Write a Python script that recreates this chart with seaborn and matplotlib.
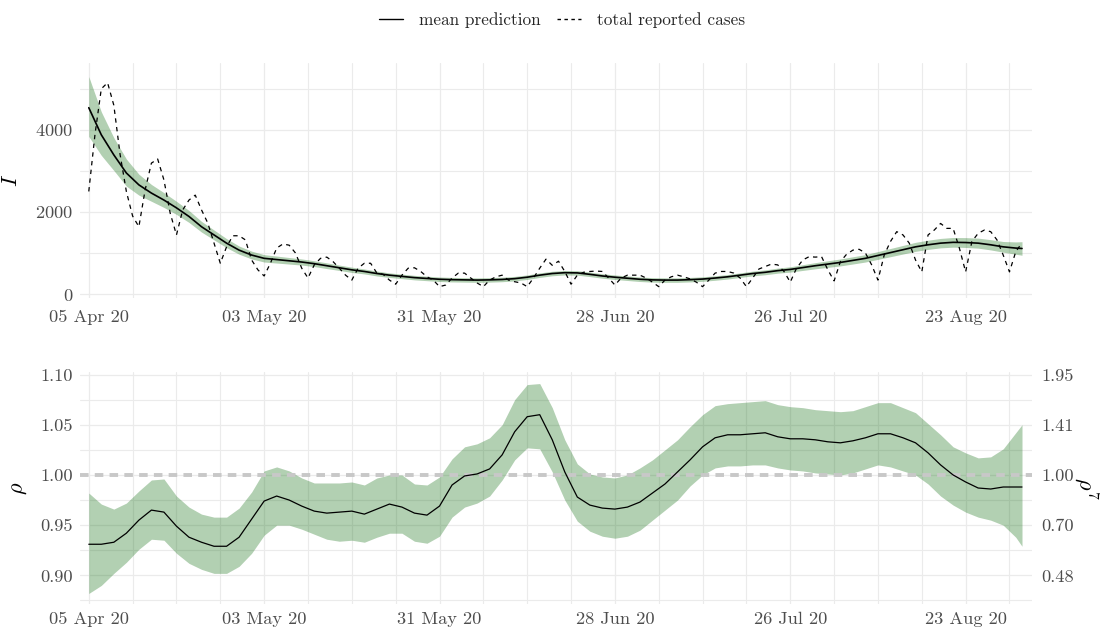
import pandas as pd
import matplotlib.pyplot as plt
import matplotlib.dates as mdates
from matplotlib.lines import Line2D
import seaborn as sns

# ---- data ----
start_date = '2020-04-05'

# daily total reported cases (day 0 .. 149)
reported_cases = [
    2500, 3900, 5000, 5150, 4600, 3400, 2500, 1900, 1640, 2540,
    3190, 3290, 2780, 1970, 1440, 2050, 2290, 2410, 2050, 1730,
    1240, 750, 1150, 1420, 1420, 1320, 830, 590, 440, 750,
    1120, 1220, 1190, 1000, 630, 390, 710, 870, 900, 790,
    630, 460, 340, 630, 750, 750, 510, 480, 340, 240,
    460, 630, 640, 550, 420, 340, 180, 220, 390, 510,
    510, 390, 270, 180, 340, 420, 460, 340, 300, 270,
    180, 390, 630, 850, 700, 800, 550, 240, 460, 530,
    550, 560, 550, 390, 220, 390, 460, 460, 460, 390,
    290, 180, 340, 420, 460, 420, 370, 290, 180, 340,
    510, 550, 550, 510, 390, 180, 390, 610, 670, 730,
    710, 550, 290, 630, 830, 910, 900, 910, 590, 320,
    790, 970, 1070, 1090, 1000, 710, 340, 950, 1280, 1520,
    1440, 1240, 830, 540, 1440, 1560, 1720, 1600, 1600, 1120,
    540, 1280, 1480, 1560, 1520, 1320, 950, 540, 1030, 1250,
]

# model output sampled every second day (plus the last day)
model_days = list(range(0, 149, 2)) + [149]

I_mean = [
    4540, 3880, 3390, 2950, 2660, 2460, 2290, 2100, 1890, 1640,
    1440, 1240, 1070, 950, 870, 840, 810, 780, 740, 690,
    640, 590, 550, 500, 460, 430, 400, 380, 360, 350,
    345, 340, 345, 355, 375, 410, 460, 500, 520, 515,
    480, 440, 410, 385, 360, 345, 340, 340, 350, 365,
    390, 420, 460, 500, 530, 570, 600, 645, 690, 730,
    770, 820, 870, 940, 1010, 1080, 1150, 1200, 1240, 1260,
    1255, 1240, 1200, 1150, 1120, 1110,
]
I_upper = [
    5300, 4440, 3810, 3290, 2920, 2670, 2470, 2260, 2035, 1770,
    1560, 1350, 1170, 1045, 960, 925, 890, 855, 810, 760,
    705, 655, 610, 560, 515, 485, 455, 435, 415, 405,
    400, 395, 400, 410, 430, 465, 515, 555, 575, 570,
    535, 495, 465, 440, 415, 400, 395, 395, 405, 420,
    445, 475, 515, 558, 590, 632, 665, 715, 765, 810,
    855, 908, 960, 1035, 1110, 1185, 1260, 1312, 1355, 1378,
    1375, 1362, 1325, 1280, 1270, 1275,
]
I_lower = [
    3840, 3380, 3010, 2630, 2410, 2260, 2110, 1940, 1745, 1510,
    1320, 1130, 970, 855, 780, 755, 730, 705, 670, 620,
    575, 525, 490, 440, 405, 375, 345, 325, 305, 295,
    290, 285, 290, 300, 320, 355, 405, 445, 465, 460,
    425, 385, 355, 330, 305, 290, 285, 285, 295, 310,
    335, 365, 405, 442, 470, 508, 535, 575, 615, 650,
    685, 732, 780, 845, 910, 975, 1040, 1088, 1125, 1142,
    1135, 1118, 1075, 1020, 970, 945,
]

rho_mean = [
    0.931, 0.931, 0.933, 0.942, 0.955, 0.965, 0.963, 0.949, 0.938, 0.933,
    0.929, 0.929, 0.938, 0.956, 0.974, 0.979, 0.975, 0.969, 0.964, 0.962,
    0.963, 0.964, 0.961, 0.966, 0.971, 0.968, 0.962, 0.960, 0.969, 0.990,
    0.999, 1.001, 1.006, 1.020, 1.043, 1.058, 1.060, 1.035, 1.003, 0.978,
    0.970, 0.967, 0.966, 0.968, 0.973, 0.982, 0.991, 1.003, 1.015, 1.028,
    1.037, 1.040, 1.040, 1.041, 1.042, 1.038, 1.036, 1.036, 1.035, 1.033,
    1.032, 1.034, 1.037, 1.041, 1.041, 1.037, 1.032, 1.022, 1.010, 1.000,
    0.993, 0.987, 0.986, 0.988, 0.988, 0.988,
]
rho_upper = [
    0.982, 0.971, 0.966, 0.972, 0.984, 0.995, 0.996, 0.979, 0.968, 0.961,
    0.958, 0.958, 0.967, 0.983, 1.004, 1.008, 1.004, 0.997, 0.992, 0.992,
    0.992, 0.993, 0.990, 0.997, 1.000, 1.000, 0.991, 0.990, 0.998, 1.016,
    1.028, 1.031, 1.037, 1.050, 1.075, 1.090, 1.091, 1.067, 1.035, 1.011,
    1.001, 0.998, 0.997, 1.000, 1.007, 1.015, 1.025, 1.035, 1.048, 1.060,
    1.069, 1.071, 1.072, 1.073, 1.074, 1.070, 1.068, 1.067, 1.065, 1.064,
    1.063, 1.064, 1.068, 1.072, 1.072, 1.067, 1.062, 1.051, 1.040, 1.028,
    1.022, 1.017, 1.018, 1.026, 1.042, 1.050,
]
rho_lower = [
    0.882, 0.890, 0.902, 0.913, 0.926, 0.936, 0.935, 0.922, 0.912, 0.906,
    0.902, 0.902, 0.909, 0.922, 0.940, 0.950, 0.950, 0.946, 0.941, 0.936,
    0.934, 0.935, 0.933, 0.938, 0.942, 0.942, 0.934, 0.932, 0.939, 0.958,
    0.968, 0.972, 0.979, 0.995, 1.015, 1.027, 1.026, 1.003, 0.975, 0.954,
    0.944, 0.939, 0.937, 0.939, 0.945, 0.955, 0.965, 0.975, 0.989, 1.000,
    1.007, 1.009, 1.009, 1.010, 1.010, 1.007, 1.005, 1.004, 1.002, 1.001,
    1.000, 1.002, 1.006, 1.010, 1.008, 1.004, 1.000, 0.991, 0.979, 0.970,
    0.963, 0.958, 0.955, 0.950, 0.938, 0.929,
]

rho_ticks = [0.90, 0.95, 1.00, 1.05, 1.10]
rho7_labels = ['0.48', '0.70', '1.00', '1.41', '1.95']
I_ticks = [0, 2000, 4000]

BAND = 'darkgreen'
GRID = '#ebebeb'
TEXT = '#4d4d4d'
TICK_SIZE = 13.2


def build_frames():
    t0 = pd.Timestamp(start_date)
    cases = pd.DataFrame({
        'date': t0 + pd.to_timedelta(range(len(reported_cases)), unit='D'),
        'cases': reported_cases,
    })
    model = pd.DataFrame({
        'date': t0 + pd.to_timedelta(model_days, unit='D'),
        'I_mean': I_mean, 'I_lower': I_lower, 'I_upper': I_upper,
        'rho_mean': rho_mean, 'rho_lower': rho_lower, 'rho_upper': rho_upper,
    })
    return cases, model


def style_axis(ax, x0, x1, xpad):
    # minimal ggplot-like look: no spines, no ticks, labelled every 4 weeks, grid every week
    for s in ax.spines.values():
        s.set_visible(False)
    t0 = pd.Timestamp(start_date)
    ax.set_xticks(pd.date_range(t0, periods=6, freq='28D'))
    ax.set_xticks(pd.date_range(t0, periods=22, freq='7D'), minor=True)
    ax.xaxis.set_major_formatter(mdates.DateFormatter('%d %b %y'))
    ax.set_xlim(x0, x1)
    ax.tick_params(which='both', length=0, colors=TEXT, labelsize=TICK_SIZE)
    ax.tick_params(axis='x', pad=xpad)
    ax.tick_params(axis='y', pad=5)
    ax.grid(which='major', color=GRID, linewidth=0.9)
    ax.grid(which='minor', color=GRID, linewidth=0.8)
    ax.set_axisbelow(True)
    ax.set_xlabel('')


def main():
    cases, model = build_frames()

    sns.set_theme(style='white')
    plt.rcParams['font.family'] = ['cmr10', 'DejaVu Serif']
    plt.rcParams['mathtext.fontset'] = 'cm'
    plt.rcParams['axes.formatter.use_mathtext'] = True

    fig = plt.figure(figsize=(11.02, 6.33), dpi=100)
    ax1 = fig.add_axes([0.0726, 0.529, 0.8639, 0.3715])
    ax2 = fig.add_axes([0.0726, 0.0458, 0.8639, 0.3665])

    x0 = pd.Timestamp(start_date) - pd.Timedelta(days=1.4)
    x1 = pd.Timestamp(start_date) + pd.Timedelta(days=150.6)

    # ---- top: infections ----
    ax1.fill_between(model['date'], model['I_lower'], model['I_upper'],
                     color=BAND, alpha=0.3, linewidth=0)
    sns.lineplot(data=model, x='date', y='I_mean', ax=ax1, color='black', linewidth=1.2)
    sns.lineplot(data=cases, x='date', y='cases', ax=ax1, color='black',
                 linewidth=0.9, linestyle=(0, (3.5, 3.5)))
    style_axis(ax1, x0, x1, 8)
    ax1.set_ylim(-100, 5630)
    ax1.set_yticks(I_ticks)
    ax1.set_yticks([1000, 3000, 5000], minor=True)
    ax1.set_ylabel(r'$I$', fontsize=16, color='black', labelpad=10)

    # ---- bottom: rho ----
    sns.lineplot(x=[x0, x1], y=[1.0, 1.0], ax=ax2, color='#c8c8c8',
                 linewidth=2.8, linestyle=(0, (2.2, 1.6)))
    ax2.fill_between(model['date'], model['rho_lower'], model['rho_upper'],
                     color=BAND, alpha=0.3, linewidth=0)
    sns.lineplot(data=model, x='date', y='rho_mean', ax=ax2, color='black', linewidth=0.9)
    style_axis(ax2, x0, x1, 5.5)
    ax2.set_ylim(0.8715, 1.1025)
    ax2.set_yticks(rho_ticks)
    ax2.set_yticklabels([f'{v:.2f}' for v in rho_ticks])
    ax2.set_yticks([0.875, 0.925, 0.975, 1.025, 1.075], minor=True)
    ax2.set_ylabel(r'$\rho$', fontsize=16, color='black', labelpad=8)

    ax3 = ax2.twinx()
    for s in ax3.spines.values():
        s.set_visible(False)
    ax3.set_ylim(ax2.get_ylim())
    ax3.set_yticks(rho_ticks)
    ax3.set_yticklabels(rho7_labels)
    ax3.tick_params(length=0, colors=TEXT, labelsize=TICK_SIZE, pad=7)
    ax3.grid(False)
    ax3.set_ylabel(r'$\rho^7$', fontsize=16, color='black', rotation=270, labelpad=18)

    handles = [Line2D([], [], color='black', linewidth=1.0),
               Line2D([], [], color='black', linewidth=1.0, linestyle=(0, (2.5, 2.5)))]
    fig.legend(handles, ['mean prediction', 'total reported cases'], loc='upper center',
               bbox_to_anchor=(0.51, 1.006), ncol=2, frameon=False, fontsize=12.4,
               handlelength=1.4, columnspacing=1.0, handletextpad=0.9)

    fig.savefig('out.png', dpi=100)


if __name__ == '__main__':
    main()
